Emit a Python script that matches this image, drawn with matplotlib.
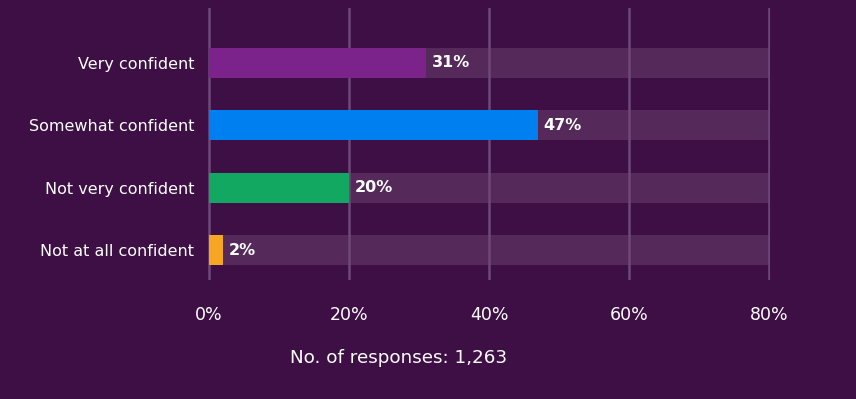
import matplotlib.pyplot as plt

categories = ['Very confident', 'Somewhat confident', 'Not very confident', 'Not at all confident']
values = [31, 47, 20, 2]
colors = ['#7b238a', '#0080f0', '#12a862', '#f5a623']
ticks = [0, 20, 40, 60, 80]
responses = 1263

bg = '#3d0f45'
fig = plt.figure(figsize=(8.56, 3.99), dpi=100, facecolor=bg)
ax = fig.add_axes([208 / 856, 1 - 280 / 399, 562 / 856, 272 / 399])
ax.set_facecolor(bg)

pos = list(range(len(categories)))[::-1]
ax.barh(pos, [80] * len(categories), height=0.48, color='#55295a', zorder=1)
for t in ticks:
    ax.axvline(t, color='#6e4877', lw=1.8, zorder=2)
ax.barh(pos, values, height=0.48, color=colors, zorder=3)
for p, v in zip(pos, values):
    ax.text(v + 0.8, p, f'{v}%', color='white', fontsize=11.5, fontweight='bold',
            va='center', ha='left', zorder=4)

ax.set_xlim(-0.1, 80.1)
ax.set_ylim(-0.48, 3.88)
ax.set_yticks(pos)
ax.set_yticklabels(categories, color='white', fontsize=11.5)
ax.set_xticks(ticks)
ax.set_xticklabels([f'{t}%' for t in ticks], color='white', fontsize=12.5)
ax.tick_params(length=0)
ax.tick_params(axis='x', pad=19)
ax.tick_params(axis='y', pad=10)
for s in ax.spines.values():
    s.set_visible(False)

fig.text(399 / 856, 1 - 358 / 399, f'No. of responses: {responses:,}', color='white',
         fontsize=13.2, ha='center', va='center')

fig.savefig('out.png', dpi=100, facecolor=bg)
